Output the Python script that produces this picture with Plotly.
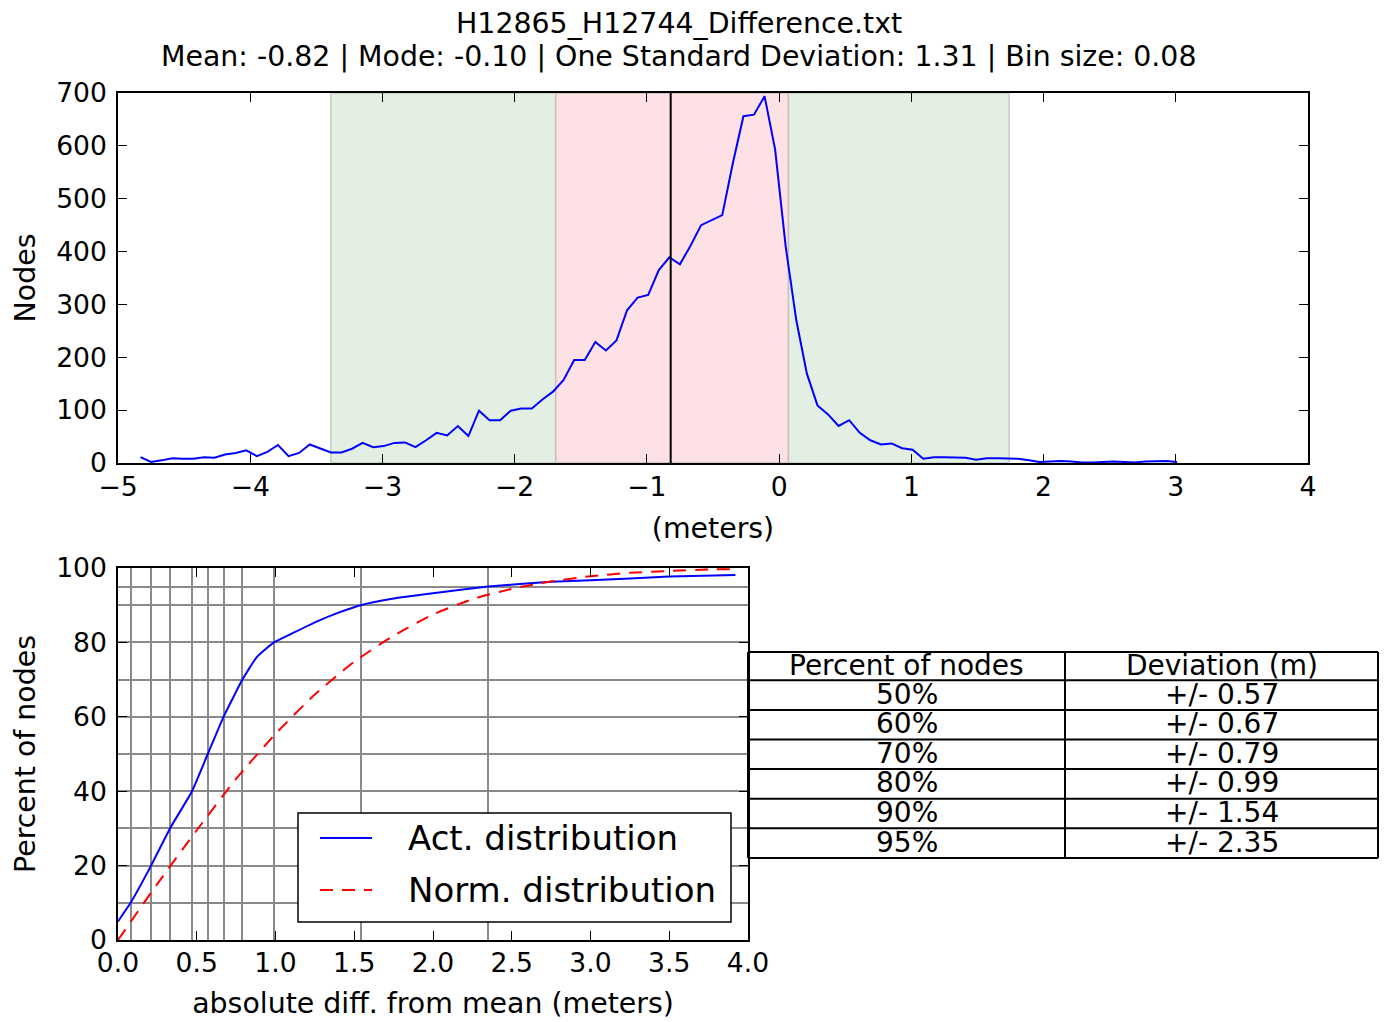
import plotly.graph_objects as go

W, H = 1390, 1022

# ---------------- data ----------------
title_file = "H12865_H12744_Difference.txt"
mean_val = -0.82
mode_val = -0.10
std_val = 1.31
bin_size = 0.08
bin_start = -4.83

hist_counts = [11, 2, 5, 9, 8, 8, 11, 10, 16, 19, 24, 13, 21, 34, 13, 19, 35, 27, 20, 20,
               27, 38, 30, 32, 38, 39, 30, 43, 57, 52, 70, 51, 99, 81, 81, 99, 103, 103, 120, 135,
               157, 195, 195, 229, 213, 232, 289, 313, 318, 365, 389, 376, 411, 450, 460, 469, 567, 656, 659, 694,
               593, 409, 270, 169, 109, 92, 70, 81, 57, 43, 35, 37, 28, 25, 8, 11, 11, 10, 10, 6,
               9, 9, 9, 8, 5, 2, 3, 4, 3, 1, 1, 2, 3, 2, 1, 3, 4, 4, 2]
hist_x = [round(bin_start + i * bin_size, 2) for i in range(len(hist_counts))]

band_outer = [-3.39, 1.74]
band_inner = [-1.69, 0.07]

act_x = [0.0, 0.08, 0.21, 0.33, 0.47, 0.57, 0.67, 0.79, 0.88, 0.99, 1.1, 1.25, 1.4, 1.54, 1.75, 2.0, 2.35, 2.75, 3.0, 3.5, 3.92]
act_y = [5, 10, 20, 30, 40, 50, 60, 70, 76, 80, 82.3, 85.4, 88, 90, 91.8, 93.2, 95, 96.3, 96.7, 97.7, 98.1]

norm_x = [0.0, 0.25, 0.5, 0.75, 1.0, 1.25, 1.5, 1.75, 2.0, 2.25, 2.5, 2.75, 3.0, 3.25, 3.5, 3.75, 3.92]
norm_y = [0.0, 15.1, 29.5, 43.3, 55.4, 66.0, 74.8, 81.8, 87.5, 91.6, 94.4, 96.4, 97.8, 98.7, 99.2, 99.6, 99.7]

pct_levels = [10, 20, 30, 40, 50, 60, 70, 80, 90, 95]
dev_levels = [0.08, 0.21, 0.33, 0.47, 0.57, 0.67, 0.79, 0.99, 1.54, 2.35]

table_header = ["Percent of nodes", "Deviation (m)"]
table_pct = ["50%", "60%", "70%", "80%", "90%", "95%"]
table_dev = ["+/- 0.57", "+/- 0.67", "+/- 0.79", "+/- 0.99", "+/- 1.54", "+/- 2.35"]

legend_names = ["Act. distribution", "Norm. distribution"]

top_xticks = [-5, -4, -3, -2, -1, 0, 1, 2, 3, 4]
top_yticks = [0, 100, 200, 300, 400, 500, 600, 700]
bot_xticks = [0.0, 0.5, 1.0, 1.5, 2.0, 2.5, 3.0, 3.5, 4.0]
bot_yticks = [0, 20, 40, 60, 80, 100]

# ---------------- figure ----------------
FONT = "DejaVu Sans"
TICK_SIZE = 26.6
LABEL_SIZE = 28.4
TABLE_SIZE = 28
BLUE = "#0000ff"
RED = "#ff0000"
DASH = "13px,9px"


def px(xp):
    return xp / W


def py(yp):
    return 1 - yp / H


fig = go.Figure()

fig.add_trace(go.Scatter(x=hist_x, y=hist_counts, mode="lines",
                         line=dict(color=BLUE, width=2), showlegend=False,
                         xaxis="x", yaxis="y"))
fig.add_trace(go.Scatter(x=[mean_val, mean_val], y=[0, 700], mode="lines",
                         line=dict(color="black", width=2), showlegend=False,
                         xaxis="x", yaxis="y"))

fig.add_trace(go.Scatter(x=act_x, y=act_y, mode="lines", name=legend_names[0],
                         line=dict(color=BLUE, width=2, shape="spline", smoothing=0.4),
                         showlegend=False, xaxis="x2", yaxis="y2"))
fig.add_trace(go.Scatter(x=norm_x, y=norm_y, mode="lines", name=legend_names[1],
                         line=dict(color=RED, width=2, dash=DASH, shape="spline", smoothing=0.6),
                         showlegend=False, xaxis="x2", yaxis="y2"))

# shaded bands (top panel)
fig.add_shape(type="rect", xref="x", yref="y", x0=band_outer[0], x1=band_outer[1], y0=0, y1=700,
              fillcolor="#e4efe4", line=dict(color="#c2cec2", width=1.5), layer="below")
fig.add_shape(type="rect", xref="x", yref="y", x0=band_inner[0], x1=band_inner[1], y0=0, y1=700,
              fillcolor="#fde1e4", line=dict(color="#cbbcbc", width=1.5), layer="below")

annotations = [
    dict(text=title_file, x=px(679), y=py(23), xref="paper", yref="paper",
         showarrow=False, font=dict(family=FONT, size=LABEL_SIZE, color="black"), yanchor="middle"),
    dict(text=f"Mean: {mean_val:.2f} | Mode: {mode_val:.2f} | One Standard Deviation: {std_val:.2f} | Bin size: {bin_size:.2f}",
         x=px(679), y=py(57), xref="paper", yref="paper",
         showarrow=False, font=dict(family=FONT, size=LABEL_SIZE, color="black"), yanchor="middle"),
]

# legend (drawn inside the lower panel)
LX0, LX1, LY0, LY1 = 298, 731, 813, 922
fig.add_shape(type="rect", xref="paper", yref="paper",
              x0=px(LX0), x1=px(LX1), y0=py(LY1), y1=py(LY0),
              fillcolor="white", line=dict(color="black", width=1.5), layer="above")
legend_rows = [(838, BLUE, "solid"), (890, RED, DASH)]
for (ry, col, dsh), name in zip(legend_rows, legend_names):
    fig.add_shape(type="line", xref="paper", yref="paper",
                  x0=px(320), x1=px(372), y0=py(ry), y1=py(ry),
                  line=dict(color=col, width=2, dash=dsh), layer="above")
    annotations.append(dict(text=name, x=px(406), y=py(ry), xref="paper", yref="paper",
                            xanchor="left", yanchor="middle", showarrow=False,
                            font=dict(family=FONT, size=34, color="black")))

# table to the right of the lower panel
TX = [748, 1065, 1378]
header_top, header_h, row_h = 652, 28.3, 29.6
row_edges = [header_top, header_top + header_h]
for _ in table_pct:
    row_edges.append(row_edges[-1] + row_h)
for ye in row_edges:
    fig.add_shape(type="line", xref="paper", yref="paper", x0=px(TX[0]), x1=px(TX[-1]),
                  y0=py(ye), y1=py(ye), line=dict(color="black", width=2), layer="above")
for xe in TX:
    fig.add_shape(type="line", xref="paper", yref="paper", x0=px(xe), x1=px(xe),
                  y0=py(row_edges[0]), y1=py(row_edges[-1]), line=dict(color="black", width=2), layer="above")
table_rows = [table_header] + [[a, b] for a, b in zip(table_pct, table_dev)]
for i, row in enumerate(table_rows):
    yc = (row_edges[i] + row_edges[i + 1]) / 2 - 1
    for j, txt in enumerate(row):
        xc = (TX[j] + TX[j + 1]) / 2
        annotations.append(dict(text=txt, x=px(xc), y=py(yc), xref="paper", yref="paper",
                                xanchor="center", yanchor="middle", showarrow=False,
                                font=dict(family=FONT, size=TABLE_SIZE, color="black")))

axis_common = dict(showline=True, linecolor="black", linewidth=1.5, mirror="ticks",
                   ticks="inside", ticklen=9, tickwidth=1.2, tickcolor="black",
                   zeroline=False, automargin=False,
                   tickfont=dict(family=FONT, size=TICK_SIZE, color="black"))

fig.update_layout(
    width=W, height=H,
    margin=dict(l=0, r=0, t=0, b=0, autoexpand=False),
    paper_bgcolor="white", plot_bgcolor="white",
    font=dict(family=FONT, size=TICK_SIZE, color="black"),
    showlegend=False,
    xaxis=dict(domain=[px(118), px(1308)], range=[-5, 4], tickvals=top_xticks,
               showgrid=False, anchor="y", ticklabelstandoff=-1,
               title=dict(text="(meters)", standoff=17, font=dict(size=LABEL_SIZE)), **axis_common),
    yaxis=dict(domain=[py(463), py(93)], range=[0, 700], tickvals=top_yticks,
               showgrid=False, anchor="x", ticklabelstandoff=4,
               title=dict(text="Nodes", standoff=12, font=dict(size=LABEL_SIZE)), **axis_common),
    xaxis2=dict(domain=[px(118), px(748)], range=[0, 4], tickvals=bot_xticks, tickformat=".1f",
                showgrid=False, anchor="y2", ticklabelstandoff=-2,
                minor=dict(tickvals=dev_levels, showgrid=True, gridcolor="#8a8a8a", gridwidth=1.6, ticks=""),
                title=dict(text="absolute diff. from mean (meters)", standoff=16, font=dict(size=LABEL_SIZE)),
                **axis_common),
    yaxis2=dict(domain=[py(940), py(568)], range=[0, 100], tickvals=bot_yticks,
                showgrid=True, gridcolor="#8a8a8a", gridwidth=1.6, anchor="x2", ticklabelstandoff=4,
                minor=dict(tickvals=pct_levels, showgrid=True, gridcolor="#8a8a8a", gridwidth=1.6, ticks=""),
                title=dict(text="Percent of nodes", standoff=12, font=dict(size=LABEL_SIZE)),
                **axis_common),
    annotations=annotations,
)

fig.write_html("out.html")
